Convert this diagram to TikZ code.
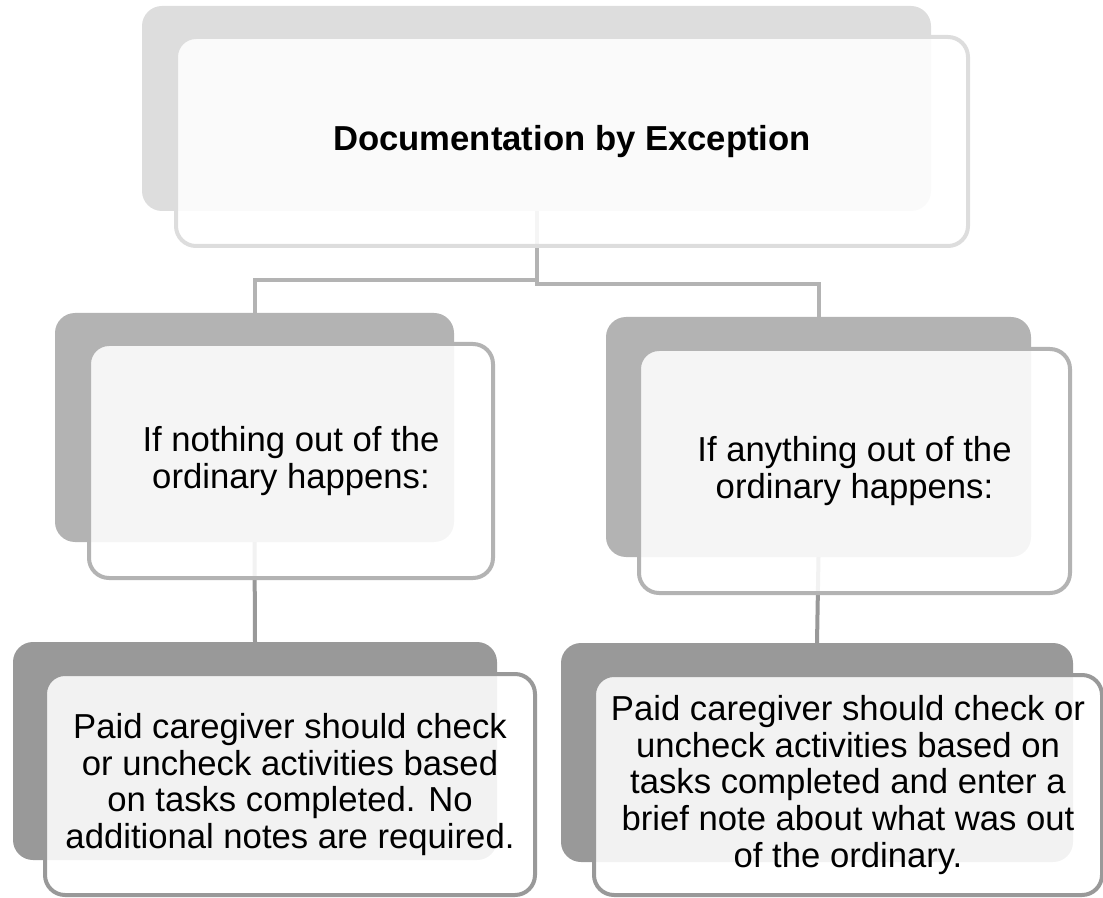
\documentclass[tikz,border=0pt]{standalone}
\usepackage{fontspec}
\setmainfont{Liberation Sans}
\definecolor{shadeA}{HTML}{DDDDDD}
\definecolor{shadeB}{HTML}{B3B3B3}
\definecolor{shadeC}{HTML}{999999}

\begin{document}
\begin{tikzpicture}[x=0.75pt,y=-0.75pt,
  bg/.style={rounded corners=15pt,inner sep=0pt,outer sep=0pt,anchor=north west},
  box/.style={rounded corners=15pt,inner sep=0pt,outer sep=0pt,anchor=north west,
    fill=white,fill opacity=0.88,text opacity=1,line width=3pt,align=center,
    font=\fontsize{26}{27.7}\selectfont},
  link/.style={line width=3pt}]
\useasboundingbox (0,0) rectangle (1103,898);

\node[bg,fill=shadeA,minimum width=591.75pt,minimum height=153.75pt] (docbg) at (142,6) {};
\node[bg,fill=shadeB,minimum width=299.25pt,minimum height=171.75pt] (nobg) at (55,313) {};
\node[bg,fill=shadeB,minimum width=318.75pt,minimum height=180pt] (yesbg) at (606,317) {};
\node[bg,fill=shadeC,minimum width=363pt,minimum height=163.5pt] (nonotebg) at (13,642) {};
\node[bg,fill=shadeC,minimum width=384pt,minimum height=164.25pt] (notebg) at (561,643) {};

\coordinate (jl) at (0,280);
\coordinate (jr) at (0,284);
\draw[link,shadeB] (docbg.south) -- (docbg.south |- jl) -| (nobg.north);
\draw[link,shadeB] (docbg.south) -- (docbg.south |- jr) -| (yesbg.north);
\draw[link,shadeC] (nobg.south) -- (nonotebg.north);
\draw[link,shadeC] (yesbg.south) -- (notebg.north);

\node[box,draw=shadeA,minimum width=594pt,minimum height=156.75pt] (doc) at (176,37)
  {\bfseries Documentation by Exception};
\node[box,draw=shadeB,minimum width=303pt,minimum height=175.5pt] (no) at (89,344)
  {If nothing out of the\\ordinary happens:};
\node[box,draw=shadeB,minimum width=323.25pt,minimum height=183pt] (yes) at (639,349)
  {If anything out of the\\ordinary happens:};
\node[box,draw=shadeC,minimum width=367.5pt,minimum height=165.75pt] (nonote) at (45,674)
  {Paid caregiver should check\\or uncheck activities based\\on tasks completed. No\\additional notes are required.};
\node[box,draw=shadeC,minimum width=381pt,minimum height=165pt] (note) at (594,675)
  {Paid caregiver should check or\\uncheck activities based on\\tasks completed and enter a\\brief note about what was out\\of the ordinary.};
\end{tikzpicture}
\end{document}
